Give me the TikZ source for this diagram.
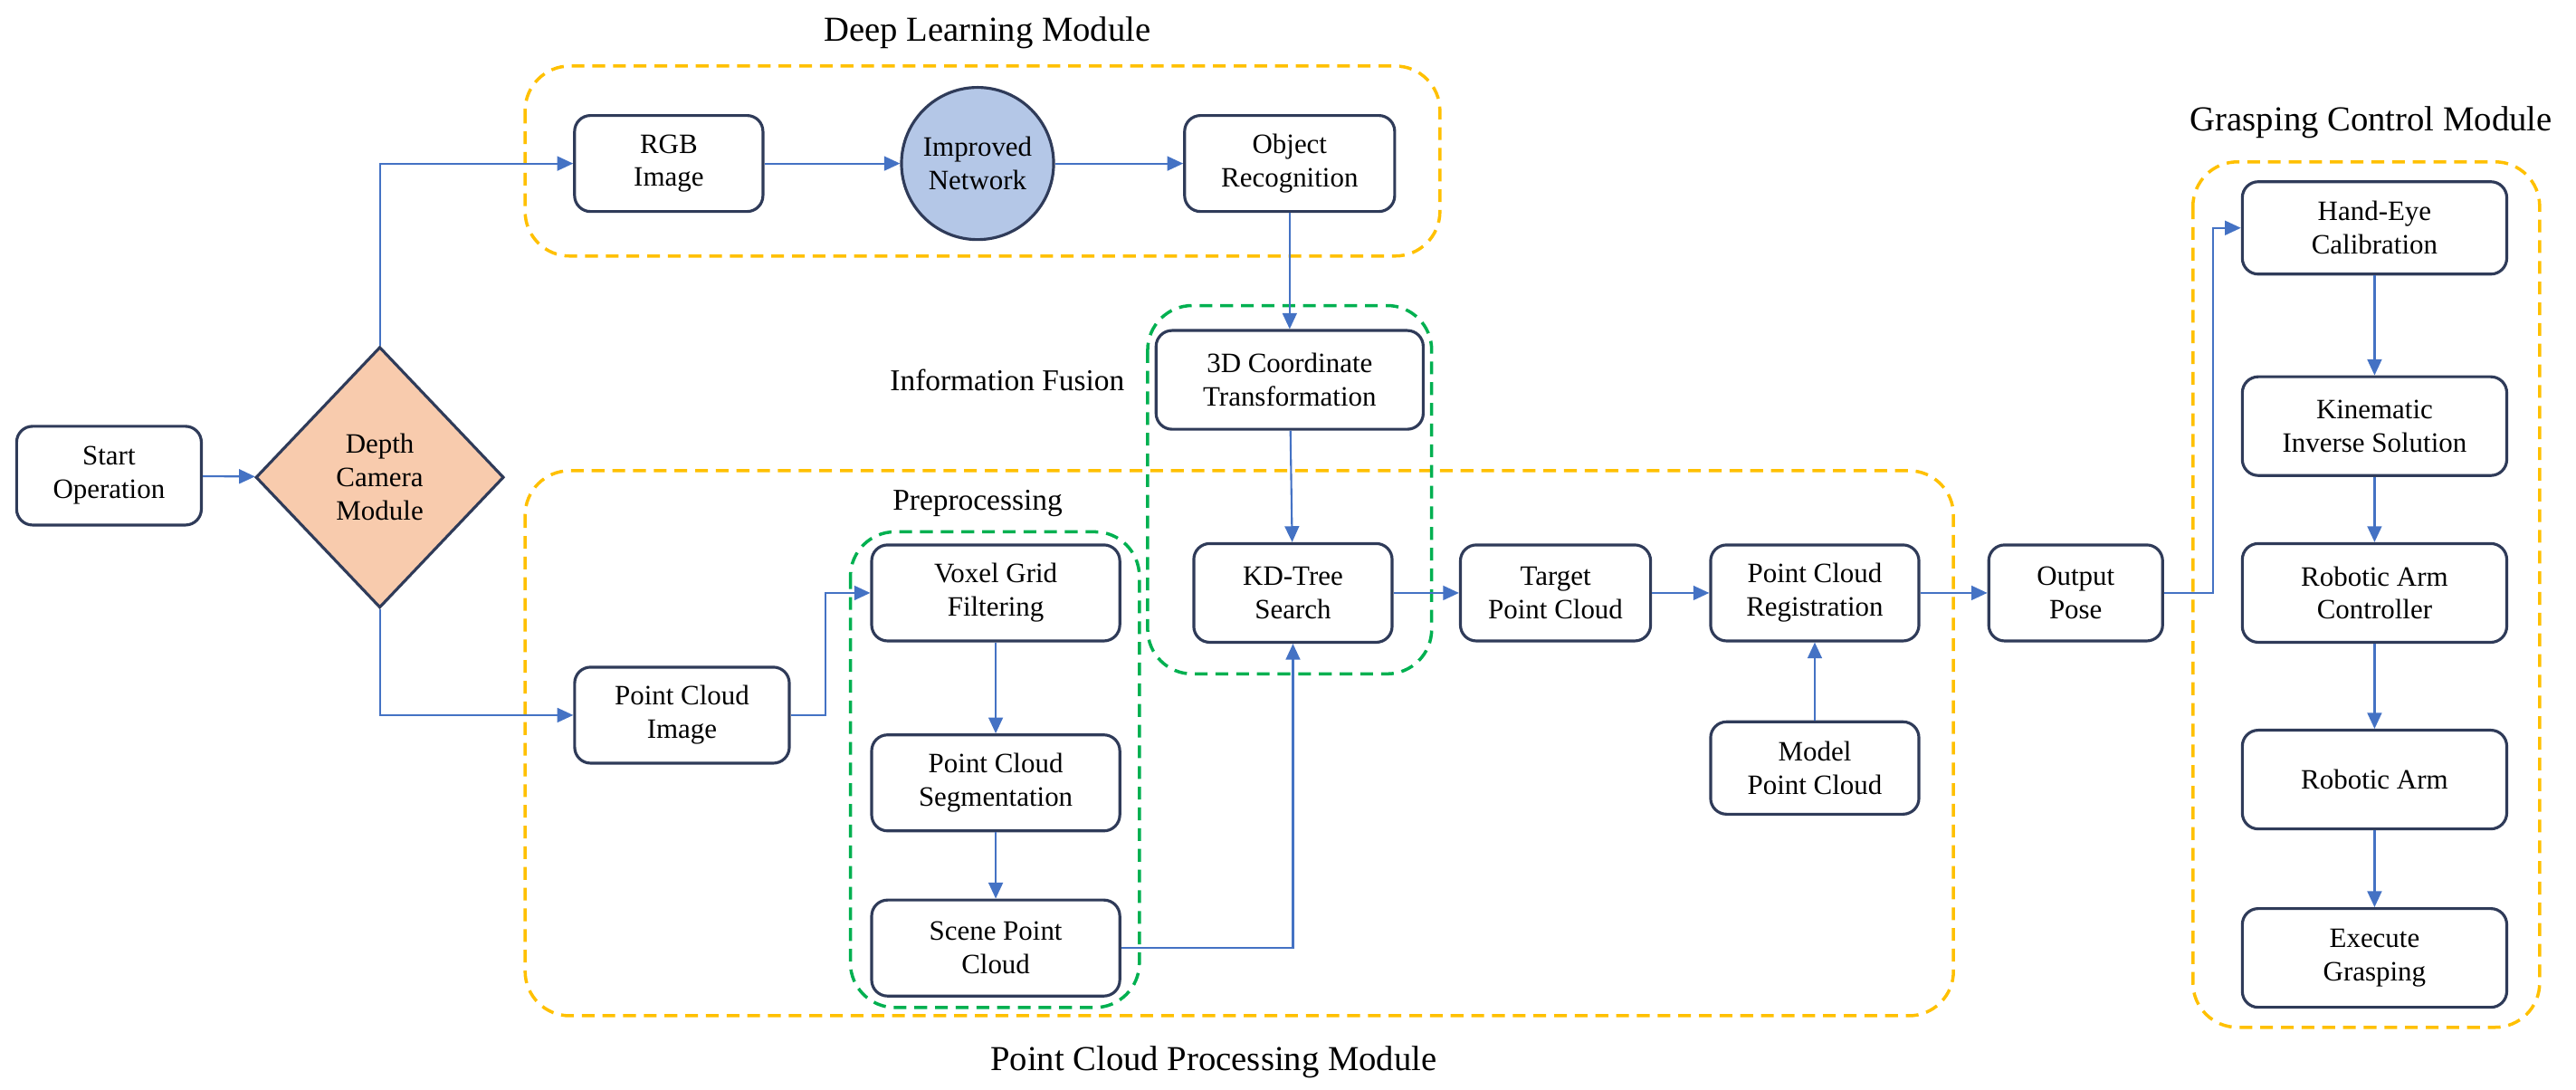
\documentclass[tikz,border=0pt]{standalone}
\usepackage{fontspec}
\setmainfont{Liberation Serif}
\usetikzlibrary{shapes.geometric,arrows.meta}
\definecolor{ln}{HTML}{4472C4}
\definecolor{bd}{HTML}{2F3B59}
\definecolor{cf}{HTML}{B4C7E7}
\definecolor{df}{HTML}{F8CBAD}
\definecolor{yl}{HTML}{FFC000}
\definecolor{gr}{HTML}{00B050}
\begin{document}
\begin{tikzpicture}[x=0.01824cm,y=-0.01824cm,
  box/.style={draw=bd,line width=0.9pt,rounded corners=5pt,fill=white,align=center,minimum height=1.06cm,inner sep=1pt,font=\fontsize{8.8}{10.5}\selectfont},
  arr/.style={draw=ln,line width=0.6pt,-{Triangle[length=5pt,width=4.5pt]}},
  ydash/.style={draw=yl,line width=1pt,dash pattern=on 4pt off 2.5pt,rounded corners=14pt},
  gdash/.style={draw=gr,line width=1pt,dash pattern=on 4pt off 2.5pt,rounded corners=14pt},
  lab/.style={font=\fontsize{11}{13}\selectfont}]
\useasboundingbox (0,0) rectangle (1560,659.5);
% dashed regions
\draw[ydash] (318,40) rectangle (872,155);
\draw[ydash] (318,285) rectangle (1183,615);
\draw[ydash] (1328,98) rectangle (1538,622);
\draw[gdash] (695,185) rectangle (867,408);
\draw[gdash] (515,322) rectangle (690,610);
\node[lab] (l1) at (598,20) {Deep Learning Module};
\node[lab] (l2) at (735,643) {Point Cloud Processing Module};
\node[lab] (l3) at (1436,74) {Grasping Control Module};
\node[font=\fontsize{9.5}{11}\selectfont] (l4) at (610,230) {Information Fusion};
\node[font=\fontsize{9.5}{11}\selectfont] (l5) at (592,305) {Preprocessing};
% nodes
\node[box,minimum width=2.04cm,minimum height=1.09cm] (start) at (66,288) {Start\\Operation};
\node[diamond,draw=bd,line width=0.9pt,fill=df,minimum width=2.74cm,minimum height=2.88cm,inner sep=0pt,align=center,font=\fontsize{8.8}{10.5}\selectfont] (cam) at (230,289) {Depth\\Camera\\Module};
\node[box,minimum width=2.08cm] (rgb) at (405,99) {RGB\\Image};
\node[circle,draw=bd,line width=0.9pt,fill=cf,minimum size=1.68cm,inner sep=0pt,align=center,font=\fontsize{8.8}{10.5}\selectfont] (net) at (592,99) {Improved\\Network};
\node[box,minimum width=2.32cm] (obj) at (781,99) {Object\\Recognition};
\node[box,minimum width=2.95cm,minimum height=1.09cm] (co) at (781,230) {3D Coordinate\\Transformation};
\node[box,minimum width=2.19cm,minimum height=1.09cm] (kd) at (783,359) {KD-Tree\\Search};
\node[box,minimum width=2.37cm] (pci) at (413,433) {Point Cloud\\Image};
\node[box,minimum width=2.74cm] (vox) at (603,359) {Voxel Grid\\Filtering};
\node[box,minimum width=2.74cm] (seg) at (603,474) {Point Cloud\\Segmentation};
\node[box,minimum width=2.74cm] (scn) at (603,574) {Scene Point\\Cloud};
\node[box,minimum width=2.10cm] (tgt) at (942,359) {Target\\Point Cloud};
\node[box,minimum width=2.30cm] (reg) at (1099,359) {Point Cloud\\Registration};
\node[box,minimum width=2.30cm,minimum height=1.02cm] (mdl) at (1099,465) {Model\\Point Cloud};
\node[box,minimum width=1.92cm] (out) at (1257,359) {Output\\Pose};
\node[box,minimum width=2.92cm,minimum height=1.02cm] (he) at (1438,138) {Hand-Eye\\Calibration};
\node[box,minimum width=2.92cm,minimum height=1.09cm] (kin) at (1438,258) {Kinematic\\Inverse Solution};
\node[box,minimum width=2.92cm,minimum height=1.09cm] (rac) at (1438,359) {Robotic Arm\\Controller};
\node[box,minimum width=2.92cm,minimum height=1.09cm] (ra) at (1438,472) {Robotic Arm};
\node[box,minimum width=2.92cm,minimum height=1.09cm] (ex) at (1438,580) {Execute\\Grasping};
% connectors
\draw[arr] (start) -- (cam);
\draw[arr] (cam.north) |- (rgb.west);
\draw[arr] (cam.south) |- (pci.west);
\draw[arr] (rgb) -- (net);
\draw[arr] (net) -- (obj);
\draw[arr] (obj) -- (co);
\draw[arr] (co) -- (kd);
\draw[arr] (pci.east) -- (500,433) |- (vox.west);
\draw[arr] (vox) -- (seg);
\draw[arr] (seg) -- (scn);
\draw[arr] (scn.east) -| (kd.south);
\draw[arr] (kd.east) -- (tgt.west);
\draw[arr] (tgt) -- (reg);
\draw[arr] (mdl) -- (reg);
\draw[arr] (reg) -- (out);
\draw[arr] (out.east) -- (1340,359) |- (he.west);
\draw[arr] (he) -- (kin);
\draw[arr] (kin) -- (rac);
\draw[arr] (rac) -- (ra);
\draw[arr] (ra) -- (ex);
\end{tikzpicture}
\end{document}
